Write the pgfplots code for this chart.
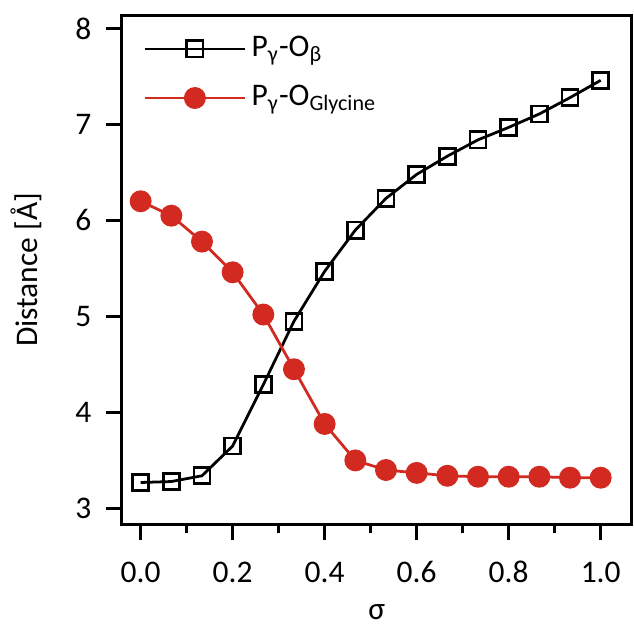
\documentclass[border=0pt]{standalone}
\usepackage{fontspec}
\setmainfont{Carlito}
\usepackage{pgfplots}
\pgfplotsset{compat=1.18}
\definecolor{myred}{RGB}{210,42,32}
\begin{document}
\fontsize{12.5}{15}\selectfont
\begin{tikzpicture}
\begin{axis}[
  clip=false,
  scale only axis,
  width=202.8pt, height=202.4pt,
  xmin=-0.042, xmax=1.068,
  ymin=2.83, ymax=8.14,
  xtick={0,0.2,...,1.0},
  minor xtick={0.1,0.3,...,0.9},
  xticklabels={},
  ytick={3,4,5,6,7,8},
  xtick pos=bottom, ytick pos=left,
  tick align=outside,
  major tick length=6pt, minor tick length=3.4pt,
  every tick/.style={black, line width=1.2pt},
  axis line style={line width=1.2pt},
  /pgf/number format/assume math mode=true,
  yticklabel style={xshift=-1.5pt},
  ylabel={Distance [Å]},
  ylabel style={yshift=5pt},
  legend style={draw=none, fill=none, at={(0.027,0.979)}, anchor=north west,
    row sep=5.5pt, font=\fontsize{12.5}{15}\selectfont},
  legend cell align=left,
  legend image code/.code={
    \draw[#1] (0pt,0pt) -- (40pt,0pt);
    \draw[#1, mark repeat=2, mark phase=2] plot coordinates {(0pt,0pt) (20pt,0pt) (40pt,0pt)};
  },
]
\addplot[black, line width=1.1pt, mark=square, mark size=3.2pt,
  mark options={fill=white, line width=1.1pt}] coordinates {
  (0.0000,3.27)(0.0667,3.28)(0.1333,3.34)(0.2000,3.65)(0.2667,4.29)
  (0.3333,4.95)(0.4000,5.47)(0.4667,5.90)(0.5333,6.23)(0.6000,6.48)
  (0.6667,6.67)(0.7333,6.84)(0.8000,6.97)(0.8667,7.11)(0.9333,7.28)
  (1.0000,7.46)};
\addplot[myred, line width=1.1pt, mark=*, mark size=3.8pt,
  mark options={fill=myred}] coordinates {
  (0.0000,6.20)(0.0667,6.05)(0.1333,5.78)(0.2000,5.46)(0.2667,5.02)
  (0.3333,4.45)(0.4000,3.88)(0.4667,3.50)(0.5333,3.40)(0.6000,3.37)
  (0.6667,3.34)(0.7333,3.33)(0.8000,3.33)(0.8667,3.33)(0.9333,3.32)
  (1.0000,3.32)};
\legend{P\textsubscript{γ}-O\textsubscript{β}, P\textsubscript{γ}-O\textsubscript{Glycine}}
% x tick labels and axis title
\node[anchor=center, inner sep=0pt, yshift=-18.8pt] at (axis cs:0.0,2.83) {0.0};
\node[anchor=center, inner sep=0pt, yshift=-18.8pt] at (axis cs:0.2,2.83) {0.2};
\node[anchor=center, inner sep=0pt, yshift=-18.8pt] at (axis cs:0.4,2.83) {0.4};
\node[anchor=center, inner sep=0pt, yshift=-18.8pt] at (axis cs:0.6,2.83) {0.6};
\node[anchor=center, inner sep=0pt, yshift=-18.8pt] at (axis cs:0.8,2.83) {0.8};
\node[anchor=center, inner sep=0pt, yshift=-18.8pt] at (axis cs:1.0,2.83) {1.0};
\node[anchor=center, inner sep=0pt, yshift=-34.6pt] at (axis description cs:0.5,0) {σ};
\path (axis description cs:0.5,1.0296) (axis description cs:0.5,-0.1976)
      (axis description cs:1.004,0.5);
\end{axis}
\end{tikzpicture}
\end{document}
